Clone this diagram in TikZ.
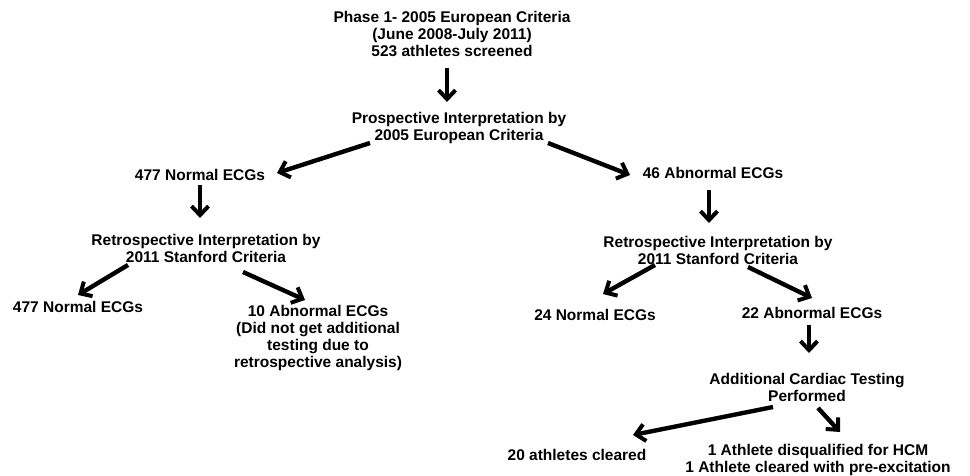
\documentclass[tikz,border=0pt]{standalone}
\usepackage{fontspec}
\setmainfont{Liberation Sans}
\usetikzlibrary{arrows.meta,positioning}

\begin{document}
\begin{tikzpicture}[x=1pt, y=-1pt,
    lbl/.style={inner sep=0pt, align=center, font=\fontsize{15.5}{17}\selectfont\bfseries},
    ar/.style={line width=4.4pt, -{Straight Barb[length=9pt, width=17pt, line width=4pt]}}]
    \useasboundingbox (0,0) rectangle (970,476);
    % top level
    \node [lbl] (phase) at (452,34) {Phase 1- 2005 European Criteria\\(June 2008-July 2011)\\523 athletes screened};
    \node [lbl] (prosp) at (459,128) {Prospective Interpretation by\\2005 European Criteria};
    \node [lbl] (norm1) at (200,175) {477 Normal ECGs};
    \node [lbl] (abn1) at (713,173) {46 Abnormal ECGs};
    % left branch
    \node [lbl] (retroL) at (206,248) {Retrospective Interpretation by\\2011 Stanford Criteria};
    \node [lbl] (norm2) at (78,307) {477 Normal ECGs};
    \node [lbl] (abn2) at (318,337.5) {10 Abnormal ECGs\\(Did not get additional\\testing due to\\retrospective analysis)};
    % right branch
    \node [lbl] (retroR) at (718,250) {Retrospective Interpretation by\\2011 Stanford Criteria};
    \node [lbl] (norm3) at (595,315) {24 Normal ECGs};
    \node [lbl] (abn3) at (812,313) {22 Abnormal ECGs};
    \node [lbl] (addl) at (807,387) {Additional Cardiac Testing\\Performed};
    \node [lbl] (cleared) at (577,455) {20 athletes cleared};
    \node [lbl] (final) at (818,459.5) {1 Athlete disqualified for HCM\\1 Athlete cleared with pre-excitation};
    % arrows
    \draw [ar] ([shift={(-5,34)}]phase.center) -- ([shift={(-12,-26)}]prosp.center);
    \draw [ar] ([shift={(-89,15)}]prosp.center) -- ([shift={(77,-2)}]norm1.center);
    \draw [ar] ([shift={(89,15)}]prosp.center) -- ([shift={(-83,2)}]abn1.center);
    \draw [ar] ([shift={(0,10)}]norm1.center) -- ([shift={(-6,-30)}]retroL.center);
    \draw [ar] ([shift={(-78,17)}]retroL.center) -- ([shift={(0,-12)}]norm2.center);
    \draw [ar] ([shift={(37,24)}]retroL.center) -- ([shift={(-13,-37.5)}]abn2.center);
    \draw [ar] ([shift={(-4,17)}]abn1.center) -- ([shift={(-9,-27)}]retroR.center);
    \draw [ar] ([shift={(-63,15)}]retroR.center) -- ([shift={(8,-21)}]norm3.center);
    \draw [ar] ([shift={(30,17)}]retroR.center) -- ([shift={(0,-15)}]abn3.center);
    \draw [ar] ([shift={(-3,12)}]abn3.center) -- ([shift={(2,-34)}]addl.center);
    \draw [ar] ([shift={(-34,20)}]addl.center) -- ([shift={(56,-20)}]cleared.center);
    \draw [ar] ([shift={(11,21)}]addl.center) -- ([shift={(22,-27.5)}]final.center);
\end{tikzpicture}
\end{document}
